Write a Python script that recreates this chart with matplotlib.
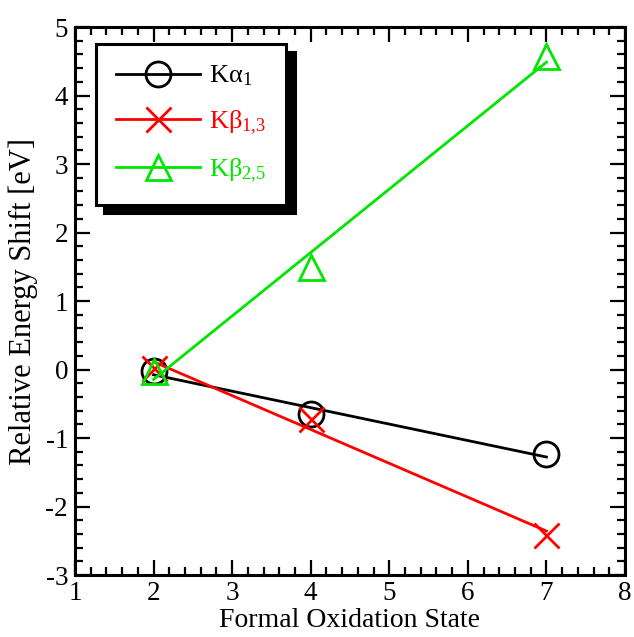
import numpy as np
import matplotlib.pyplot as plt
from matplotlib.ticker import MultipleLocator

plt.rcParams['font.family'] = ['Liberation Serif', 'DejaVu Serif']
plt.rcParams['mathtext.fontset'] = 'custom'
plt.rcParams['mathtext.rm'] = 'Liberation Serif'
plt.rcParams['mathtext.it'] = 'Liberation Serif'
plt.rcParams['axes.unicode_minus'] = False

# oxidation states and measured shifts
ox_state = [2, 4, 7]
ka1 = [-0.02, -0.65, -1.24]
kb13 = [0.02, -0.72, -2.42]
kb25 = [-0.02, 1.50, 4.57]

labels = ['K\u03b1$_{1}$', 'K\u03b2$_{1{,}3}$', 'K\u03b2$_{2{,}5}$']
colors = ['black', '#ff0000', '#00e600']
markers = ['o', 'x', '^']

fig = plt.figure(figsize=(6.34, 6.37), dpi=100)
ax = fig.add_axes([0.1183, 0.0973, 0.8675, 0.8603])

x = np.array(ox_state, dtype=float)
for ys, lab, c, m in zip([ka1, kb13, kb25], labels, colors, markers):
    p = np.polyfit(x, ys, 1)  # linear fit line, drawn across the data range
    xf = np.array([x.min(), x.max()])
    ax.plot(xf, np.polyval(p, xf), color=c, lw=2)
    ax.plot(x, ys, linestyle='none', marker=m, ms=18, mfc='none', mec=c, mew=2)
    # legend proxy
    ax.plot([], [], color=c, lw=2, marker=m, ms=18, mfc='none', mec=c, mew=2, label=lab)

ax.set_xlim(1, 8)
ax.set_ylim(-3, 5)
ax.xaxis.set_major_locator(MultipleLocator(1))
ax.xaxis.set_minor_locator(MultipleLocator(0.2))
ax.yaxis.set_major_locator(MultipleLocator(1))
ax.yaxis.set_minor_locator(MultipleLocator(0.2))
ax.tick_params(which='both', direction='in', top=True, right=True, width=1.6, labelsize=19.5)
ax.tick_params(which='major', length=11, pad=5)
ax.tick_params(axis='x', which='major', pad=4)
ax.tick_params(which='minor', length=6)
for s in ax.spines.values():
    s.set_linewidth(2.2)

ax.set_xlabel('Formal Oxidation State', fontsize=20, labelpad=1.5)
ax.set_ylabel('Relative Energy Shift [eV]', fontsize=22, labelpad=5)

leg = ax.legend(loc='upper left', bbox_to_anchor=(0.038, 0.969), borderaxespad=0,
                fontsize=19, fancybox=False, edgecolor='black', framealpha=1,
                handlelength=3.2, handletextpad=0.35, labelspacing=0.75, borderpad=0.75,
                shadow={'ox': 6, 'oy': -6, 'color': 'black', 'alpha': 1})
leg.get_frame().set_linewidth(2.2)
for t, c in zip(leg.get_texts(), colors):
    t.set_color(c)

fig.savefig('out.png', dpi=100)
